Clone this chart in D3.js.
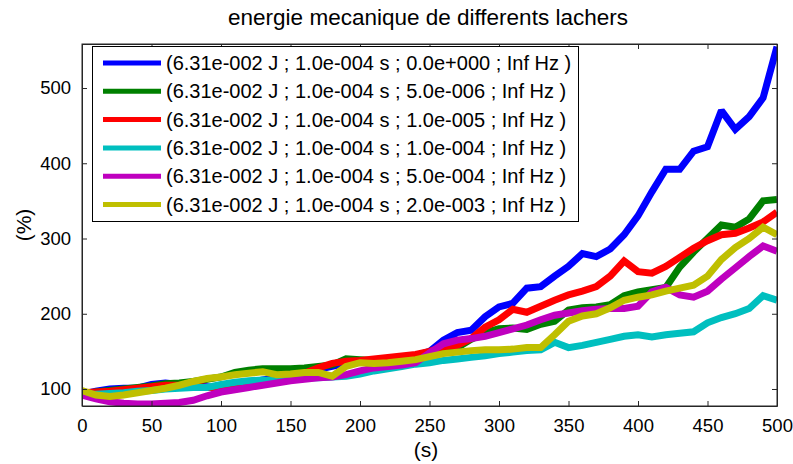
<!DOCTYPE html>
<html>
<head>
<meta charset="utf-8">
<script src="https://cdn.jsdelivr.net/npm/d3@7"></script>
<style>
  html, body { margin: 0; padding: 0; background: #fff; }
  text { font-family: "Liberation Sans", Arial, Helvetica, sans-serif; fill: #000; }
</style>
</head>
<body>
<svg id="chart" width="793" height="464"></svg>
<script>
const title = "energie mecanique de differents lachers";
const xLabel = "(s)";
const yLabel = "(%)";
const xTicks = [0, 50, 100, 150, 200, 250, 300, 350, 400, 450, 500];
const yTicks = [100, 200, 300, 400, 500];
const times = d3.range(0, 501, 10);

const seriesNames = [
  "(6.31e-002 J ; 1.0e-004 s ; 0.0e+000 ; Inf Hz )",
  "(6.31e-002 J ; 1.0e-004 s ; 5.0e-006 ; Inf Hz )",
  "(6.31e-002 J ; 1.0e-004 s ; 1.0e-005 ; Inf Hz )",
  "(6.31e-002 J ; 1.0e-004 s ; 1.0e-004 ; Inf Hz )",
  "(6.31e-002 J ; 1.0e-004 s ; 5.0e-004 ; Inf Hz )",
  "(6.31e-002 J ; 1.0e-004 s ; 2.0e-003 ; Inf Hz )"
];
const seriesColors = ["#0000ff", "#008000", "#ff0000", "#00bfbf", "#bf00bf", "#bfbf00"];

const blue = [93,97,100,101,101,106,108,106,104,103,101,104,108,112,115,118,122,126,130,134,136,137,139,141,144,150,165,175,178,196,209,214,234,236,250,263,280,276,286,305,330,362,392,392,416,422,470,445,462,487,555];
const green = [93,96,98,100,102,104,107,108,110,113,116,122,125,127,127,127,128,130,132,140,139,138,140,142,144,147,151,155,166,175,180,181,179,186,190,205,208,209,212,224,229,232,235,262,282,300,318,315,326,350,352];
const red = [95,96,97,99,101,103,105,105,104,102,102,105,108,110,110,113,121,128,134,137,138,140,142,144,146,150,156,158,167,182,192,206,202,210,218,225,230,236,250,270,256,254,263,275,287,297,305,307,314,322,335];
const cyan = [93,93,94,95,97,98,100,101,102,102,106,109,111,112,111,113,115,115,116,117,120,124,127,130,133,135,138,140,142,144,147,149,151,152,162,155,158,162,166,170,172,169,172,174,176,188,195,200,207,224,218];
const magenta = [92,87,83,81,80,80,81,82,85,91,96,99,102,105,108,111,113,115,116,119,124,128,130,132,135,148,160,165,167,170,175,180,185,192,198,201,204,206,207,207,210,229,235,225,222,230,246,261,276,290,283];
const yellow = [98,92,90,92,95,98,101,105,110,114,116,119,121,123,119,120,122,122,117,130,135,134,135,137,139,143,147,149,151,152,152,153,155,155,172,190,197,200,208,218,222,225,230,234,238,250,272,288,300,315,305];

const seriesValues = [blue, green, red, cyan, magenta, yellow];

const svg = d3.select("#chart");
svg.append("rect").attr("width", 793).attr("height", 464).attr("fill", "#fff");

const m = { left: 82, right: 777, top: 44, bottom: 406 };
const x = d3.scaleLinear().domain([0, 500]).range([m.left, m.right]);
const y = d3.scaleLinear().domain([77.4, 558.5]).range([m.bottom, m.top]);

const plot = svg.append("g");
plot.append("clipPath").attr("id", "clip").append("rect")
  .attr("x", m.left).attr("y", m.top).attr("width", m.right - m.left).attr("height", m.bottom - m.top);

const line = d3.line().x(d => x(d[0])).y(d => y(d[1]));
const lines = plot.append("g").attr("clip-path", "url(#clip)");
seriesValues.forEach((vals, i) => {
  lines.append("path")
    .datum(times.map((t, j) => [t, vals[j]]))
    .attr("d", line)
    .attr("fill", "none")
    .attr("stroke", seriesColors[i])
    .attr("stroke-width", 7)
    .attr("stroke-linejoin", "miter")
    .attr("stroke-miterlimit", 2);
});

// axes (MATLAB style box with inward ticks)
const tickLen = 5;
const axColor = "#262626";
const fmt = d3.format("d");
const axB = svg.append("g").attr("transform", `translate(0,${m.bottom})`)
  .call(d3.axisBottom(x).tickValues(xTicks).tickSizeInner(-tickLen).tickSizeOuter(0).tickPadding(12.5).tickFormat(fmt));
const axT = svg.append("g").attr("transform", `translate(0,${m.top})`)
  .call(d3.axisTop(x).tickValues(xTicks).tickSizeInner(-tickLen).tickSizeOuter(0).tickFormat(""));
const axL = svg.append("g").attr("transform", `translate(${m.left},0)`)
  .call(d3.axisLeft(y).tickValues(yTicks).tickSizeInner(-tickLen).tickSizeOuter(0).tickPadding(11).tickFormat(fmt));
const axR = svg.append("g").attr("transform", `translate(${m.right},0)`)
  .call(d3.axisRight(y).tickValues(yTicks).tickSizeInner(-tickLen).tickSizeOuter(0).tickFormat(""));
[axB, axT, axL, axR].forEach(a => {
  a.select(".domain").attr("stroke", axColor).attr("stroke-width", 1);
  a.selectAll(".tick line").attr("stroke", axColor);
  a.selectAll(".tick text").attr("font-size", 18.5).attr("font-family", "Liberation Sans, Arial, sans-serif").attr("fill", "#000");
});
svg.append("rect").attr("x", m.left).attr("y", m.top)
  .attr("width", m.right - m.left).attr("height", m.bottom - m.top)
  .attr("fill", "none").attr("stroke", axColor).attr("stroke-width", 1);

// legend
const lg = svg.append("g");
lg.append("rect").attr("x", 92.5).attr("y", 46.5).attr("width", 486).attr("height", 175)
  .attr("fill", "#fff").attr("stroke", "#000").attr("stroke-width", 1);
seriesNames.forEach((name, i) => {
  const yy = 63 + i * 28.3;
  lg.append("line").attr("x1", 103).attr("x2", 161).attr("y1", yy).attr("y2", yy)
    .attr("stroke", seriesColors[i]).attr("stroke-width", 5);
  lg.append("text").attr("x", 166).attr("y", yy).attr("dy", "0.35em")
    .attr("font-size", 20).text(name);
});

// titles
svg.append("text").attr("x", 428).attr("y", 25).attr("text-anchor", "middle")
  .attr("font-size", 22.5).text(title);
svg.append("text").attr("x", 426).attr("y", 457).attr("text-anchor", "middle")
  .attr("font-size", 21).text(xLabel);
svg.append("text").attr("transform", "translate(31,225) rotate(-90)").attr("text-anchor", "middle")
  .attr("font-size", 21).text(yLabel);
</script>
</body>
</html>
